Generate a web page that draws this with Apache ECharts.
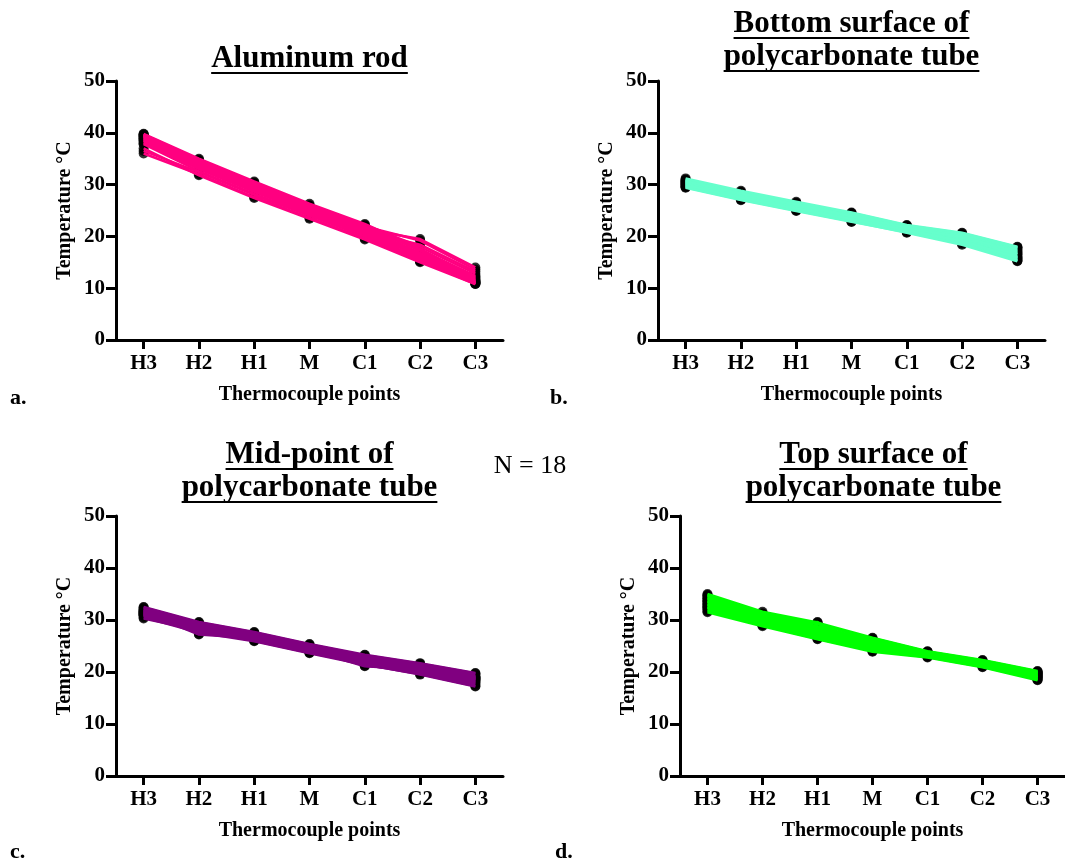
<!DOCTYPE html>
<html>
<head>
<meta charset="utf-8">
<script src="https://cdn.jsdelivr.net/npm/echarts@6/dist/echarts.min.js"></script>
<style>
  html, body { margin: 0; padding: 0; background: #fff; }
  #main { width: 1065px; height: 865px; }
</style>
</head>
<body>
<div id="main"></div>
<script>
'use strict';

var categories = ['H3', 'H2', 'H1', 'M', 'C1', 'C2', 'C3'];

// 18 runs per location, values in °C
var aluminumRod = [
    [39.8, 35.0, 30.6, 26.3, 22.4, 17.6, 12.0],
    [39.5, 34.6, 30.2, 25.9, 22.0, 17.2, 11.6],
    [39.2, 34.2, 29.8, 25.6, 21.6, 16.8, 11.2],
    [39.0, 33.8, 29.6, 25.2, 21.3, 16.4, 11.0],
    [38.8, 33.5, 29.2, 25.0, 21.0, 16.0, 11.4],
    [38.5, 33.2, 28.9, 24.7, 20.6, 15.6, 11.0],
    [39.6, 34.4, 30.0, 25.8, 21.8, 17.4, 12.4],
    [39.3, 33.9, 29.5, 25.4, 21.2, 16.6, 11.8],
    [38.9, 33.6, 29.0, 24.9, 20.8, 16.2, 12.2],
    [38.2, 33.0, 28.6, 24.4, 20.4, 15.4, 10.8],
    [37.8, 32.6, 28.2, 24.1, 20.0, 15.2, 11.2],
    [39.7, 34.8, 30.4, 26.0, 22.2, 18.0, 12.8],
    [39.4, 34.0, 29.4, 25.3, 21.4, 19.5, 14.0],
    [38.6, 33.4, 29.0, 25.5, 21.9, 19.2, 13.6],
    [36.0, 32.0, 27.6, 23.6, 19.6, 15.2, 11.0],
    [36.5, 32.4, 28.0, 24.0, 20.0, 15.8, 11.4],
    [37.0, 31.8, 27.4, 23.4, 19.4, 15.0, 10.8],
    [38.0, 33.2, 28.8, 24.6, 21.0, 18.4, 13.2]
];

var bottomSurface = [
    [31.0, 28.6, 26.5, 24.4, 22.0, 20.4, 17.6],
    [30.8, 28.4, 26.3, 24.2, 21.9, 20.2, 17.2],
    [30.6, 28.2, 26.1, 24.0, 21.7, 20.0, 16.8],
    [30.4, 28.0, 25.9, 23.8, 21.6, 19.8, 16.5],
    [30.2, 27.8, 25.7, 23.6, 21.4, 19.6, 16.2],
    [30.0, 27.6, 25.5, 23.4, 21.3, 19.4, 16.0],
    [29.8, 27.4, 25.3, 23.2, 21.1, 19.2, 15.8],
    [29.6, 27.2, 25.1, 23.0, 21.0, 19.0, 15.6],
    [29.4, 27.0, 24.9, 22.8, 20.8, 18.6, 15.4],
    [30.9, 28.5, 26.4, 24.5, 22.1, 20.6, 17.9],
    [30.5, 28.1, 26.0, 24.1, 21.8, 20.3, 17.8],
    [30.1, 27.7, 25.6, 23.5, 21.2, 19.5, 17.4],
    [29.7, 27.3, 25.2, 23.1, 20.9, 18.8, 15.3],
    [29.5, 27.1, 25.0, 22.9, 20.7, 18.4, 15.2],
    [30.3, 27.9, 25.8, 23.7, 21.5, 19.7, 16.6],
    [30.7, 28.3, 26.2, 23.9, 21.6, 19.9, 17.0],
    [29.9, 27.5, 25.4, 23.3, 21.2, 19.1, 15.9],
    [31.2, 28.8, 26.7, 24.6, 22.2, 20.7, 18.0]
];

var midPoint = [
    [32.4, 29.5, 27.6, 25.3, 23.2, 21.6, 19.7],
    [32.2, 29.3, 27.4, 25.1, 23.0, 21.4, 19.5],
    [32.0, 29.1, 27.2, 24.9, 22.8, 21.2, 19.2],
    [31.8, 28.9, 27.0, 24.7, 22.6, 21.0, 19.0],
    [31.6, 28.7, 26.8, 24.5, 22.4, 20.8, 18.7],
    [31.4, 28.5, 26.6, 24.3, 22.2, 20.6, 18.4],
    [31.2, 28.3, 26.4, 24.1, 22.0, 20.4, 18.2],
    [31.0, 28.1, 26.2, 23.9, 21.8, 20.2, 17.9],
    [30.8, 27.9, 26.0, 23.7, 21.6, 19.9, 17.6],
    [30.5, 27.6, 25.9, 23.6, 21.4, 19.6, 17.3],
    [30.3, 28.0, 26.1, 23.8, 21.5, 19.5, 17.2],
    [32.5, 29.6, 27.7, 25.4, 23.3, 21.7, 19.8],
    [31.9, 27.3, 26.9, 24.6, 22.5, 20.9, 18.9],
    [31.5, 27.2, 26.5, 24.2, 21.1, 20.5, 18.6],
    [31.1, 28.8, 26.3, 24.4, 21.2, 20.3, 18.0],
    [30.9, 28.4, 26.7, 24.8, 22.7, 20.7, 18.5],
    [31.3, 28.6, 26.9, 24.0, 22.1, 21.1, 18.8],
    [31.7, 29.0, 27.1, 25.0, 22.9, 21.3, 19.1]
];

var topSurface = [
    [35.0, 31.6, 29.5, 26.6, 24.0, 22.3, 20.2],
    [34.7, 31.3, 29.2, 26.3, 23.9, 22.2, 20.1],
    [34.4, 31.0, 28.8, 26.0, 23.8, 22.0, 19.9],
    [34.1, 30.8, 28.5, 25.8, 23.7, 21.9, 19.8],
    [33.8, 30.6, 28.2, 25.6, 23.6, 21.8, 19.6],
    [33.5, 30.4, 27.9, 25.4, 23.5, 21.7, 19.5],
    [33.2, 30.2, 27.6, 25.2, 23.4, 21.6, 19.4],
    [32.9, 30.0, 27.3, 25.0, 23.3, 21.5, 19.2],
    [32.6, 29.8, 27.0, 24.8, 23.2, 21.4, 19.1],
    [32.3, 29.6, 26.8, 24.6, 23.1, 21.3, 19.0],
    [32.0, 29.3, 26.6, 24.4, 23.0, 21.2, 18.8],
    [31.7, 29.0, 26.4, 24.1, 22.9, 21.0, 18.6],
    [31.5, 28.8, 26.3, 23.9, 22.8, 20.9, 18.4],
    [34.8, 30.5, 29.4, 24.2, 23.4, 21.5, 19.3],
    [33.0, 29.2, 29.6, 24.0, 23.2, 21.4, 19.0],
    [32.4, 29.1, 26.7, 26.5, 23.9, 22.1, 20.0],
    [33.6, 29.4, 26.9, 26.2, 23.6, 21.8, 19.7],
    [34.2, 31.2, 28.0, 25.5, 23.5, 21.6, 18.5]
];

var panelTitles = [
    ['Aluminum rod'],
    ['Bottom surface of', 'polycarbonate tube'],
    ['Mid-point of', 'polycarbonate tube'],
    ['Top surface of', 'polycarbonate tube']
];
var panelLetters = ['a.', 'b.', 'c.', 'd.'];
var panelData = [aluminumRod, bottomSurface, midPoint, topSurface];
var panelColors = ['#ff0080', '#66ffcc', '#800080', '#00ff00'];
var sampleText = 'N = 18';

var SERIF = '"Liberation Serif", "DejaVu Serif", serif';
var titleFont = 'bold 31px ' + SERIF;

// grid boxes for the 4 panels
var grids = [
    {left: 116, top: 81, width: 387, height: 259},
    {left: 658, top: 81, width: 387, height: 259},
    {left: 116, top: 516, width: 387, height: 260},
    {left: 680, top: 516, width: 387, height: 260}
];

function measure(text, font) {
    var ctx = document.createElement('canvas').getContext('2d');
    ctx.font = font;
    return ctx.measureText(text).width;
}

function titleGraphics(lines, cx, firstMid) {
    var out = [];
    for (var i = 0; i < lines.length; i++) {
        var y = firstMid + i * 33;
        var w = measure(lines[i], titleFont);
        out.push({
            type: 'text', x: cx, y: y,
            style: {text: lines[i], font: titleFont, fill: '#000',
                    textAlign: 'center', textVerticalAlign: 'middle'}
        });
        out.push({
            type: 'rect',
            shape: {x: cx - w / 2, y: y + 13, width: w, height: 2},
            style: {fill: '#000'}
        });
    }
    return out;
}

var axisText = {color: '#000', fontFamily: SERIF, fontWeight: 'bold', fontSize: 21};
var nameText = {color: '#000', fontFamily: SERIF, fontWeight: 'bold', fontSize: 20};
var axisLine = {show: true, lineStyle: {color: '#000', width: 3}};

var xAxes = [], yAxes = [], series = [], graphics = [];
var titleMid = [[59], [24, 57], [455, 488], [455, 488]];
var letterPos = [[10, 398], [550, 398], [10, 852], [555, 852]];

for (var p = 0; p < 4; p++) {
    xAxes.push({
        gridIndex: p,
        type: 'category',
        data: categories,
        boundaryGap: true,
        name: 'Thermocouple points',
        nameLocation: 'middle',
        nameGap: 45,
        nameTextStyle: nameText,
        axisLine: axisLine,
        axisTick: {show: true, alignWithLabel: true, length: 9, lineStyle: {color: '#000', width: 3}},
        axisLabel: Object.assign({margin: 13}, axisText),
        splitLine: {show: false}
    });
    yAxes.push({
        gridIndex: p,
        type: 'value',
        min: 0,
        max: 50,
        interval: 10,
        name: 'Temperature °C',
        nameLocation: 'middle',
        nameGap: 41,
        nameTextStyle: nameText,
        axisLine: axisLine,
        axisTick: {show: true, length: 10, lineStyle: {color: '#000', width: 3}},
        axisLabel: Object.assign({margin: 11}, axisText),
        splitLine: {show: false}
    });

    var runs = panelData[p];
    var pts = [];
    for (var r = 0; r < runs.length; r++) {
        for (var k = 0; k < runs[r].length; k++) {
            pts.push([k, runs[r][k]]);
        }
    }
    // black markers under the lines
    series.push({
        type: 'scatter',
        xAxisIndex: p, yAxisIndex: p,
        symbol: 'circle', symbolSize: 10,
        itemStyle: {color: '#000'},
        z: 1,
        data: pts
    });
    for (var r = 0; r < runs.length; r++) {
        series.push({
            type: 'line',
            xAxisIndex: p, yAxisIndex: p,
            showSymbol: false,
            lineStyle: {color: panelColors[p], width: 2.5},
            z: 2,
            data: runs[r]
        });
    }

    var cx = grids[p].left + grids[p].width / 2;
    graphics = graphics.concat(titleGraphics(panelTitles[p], cx, titleMid[p][0]));
    graphics.push({
        type: 'text', x: letterPos[p][0], y: letterPos[p][1],
        style: {text: panelLetters[p], font: 'bold 22px ' + SERIF, fill: '#000',
                textVerticalAlign: 'middle'}
    });
}

graphics.push({
    type: 'text', x: 530, y: 466,
    style: {text: sampleText, font: '26px ' + SERIF, fill: '#000',
            textAlign: 'center', textVerticalAlign: 'middle'}
});

var chart = echarts.init(document.getElementById('main'), null, {renderer: 'canvas'});
chart.setOption({
    animation: false,
    backgroundColor: '#fff',
    grid: grids,
    xAxis: xAxes,
    yAxis: yAxes,
    series: series,
    graphic: graphics
});
</script>
</body>
</html>
